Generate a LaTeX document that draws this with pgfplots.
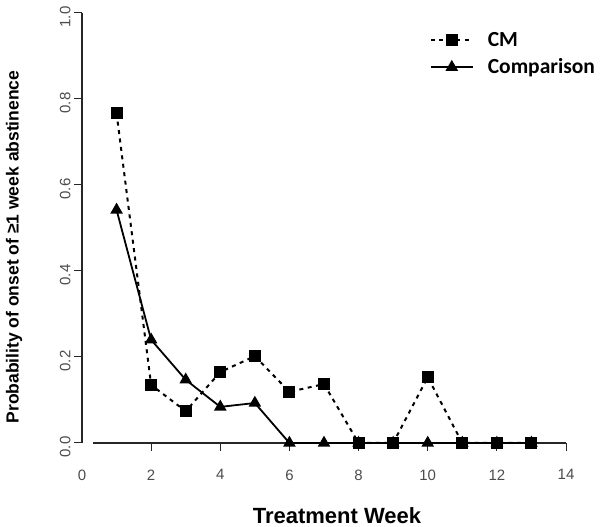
\documentclass[border=0pt]{standalone}
\usepackage{fontspec}
\setmainfont{Liberation Sans}
\newfontfamily\carlito{Carlito}
\usepackage{pgfplots}
\pgfplotsset{compat=1.18}
\begin{document}
\begin{tikzpicture}
\begin{axis}[
  at={(0,0)}, anchor=south west,
  scale only axis, width=484pt, height=430pt,
  xmin=0, xmax=14, ymin=0, ymax=1,
  clip=false,
  axis x line*=bottom, axis y line*=left,
  axis line style={-, line width=1.1pt, black!85},
  x axis line style={shorten <=11pt},
  xtick={2,4,...,14},
  extra x ticks={0}, extra x tick style={major tick style={draw=none}},
  ytick={0,0.2,0.4,0.6,0.8,1.0},
  yticklabels={0.0,0.2,0.4,0.6,0.8,1.0},
  tick align=outside, major tick length=8pt,
  tick style={line width=1pt, black!85},
  /pgf/number format/assume math mode=true,
  tick label style={font=\fontsize{15}{18}\selectfont, text=black!70},
  yticklabel style={rotate=90, anchor=south, xshift=-4pt},
  xticklabel style={yshift=-15pt},
  legend style={at={(rel axis cs:0.712,0.965)}, anchor=north west, draw=none, fill=none,
    font=\carlito\bfseries\fontsize{21.5}{25}\selectfont, row sep=7pt,
    /tikz/every odd column/.append style={column sep=12pt}},
  legend cell align=left,
  legend image code/.code={\draw[mark repeat=2,mark phase=2,#1] plot coordinates {(0pt,0pt) (21pt,0pt) (42pt,0pt)};},
]
\addplot[black, line width=2pt, dash pattern=on 4pt off 4.5pt, mark=square*, mark size=5pt, mark options={solid, fill=black}]
coordinates {(1,0.767) (2,0.135) (3,0.074) (4,0.165) (5,0.202) (6,0.119) (7,0.137) (8,0) (9,0) (10,0.153) (11,0) (12,0) (13,0)};
\addlegendentry{CM}
\addplot[black, line width=1.8pt, mark=triangle*, mark size=5.5pt, mark options={solid, fill=black}]
coordinates {(1,0.542) (2,0.24) (3,0.147) (4,0.084) (5,0.093) (6,0) (7,0) (8,0) (9,0) (10,0) (11,0) (12,0) (13,0)};
\addlegendentry{Comparison}
\end{axis}
\node[rotate=90, font=\bfseries\fontsize{17.5}{21}\selectfont] at (-68pt,196pt) {Probability of onset of ≥1 week abstinence};
\node[anchor=base, font=\bfseries\fontsize{22}{26}\selectfont, inner sep=0pt] at (255pt,-80.5pt) {Treatment Week};
\pgfresetboundingbox
\useasboundingbox (-82pt,-84pt) rectangle (518pt,443pt);
\end{tikzpicture}
\end{document}
